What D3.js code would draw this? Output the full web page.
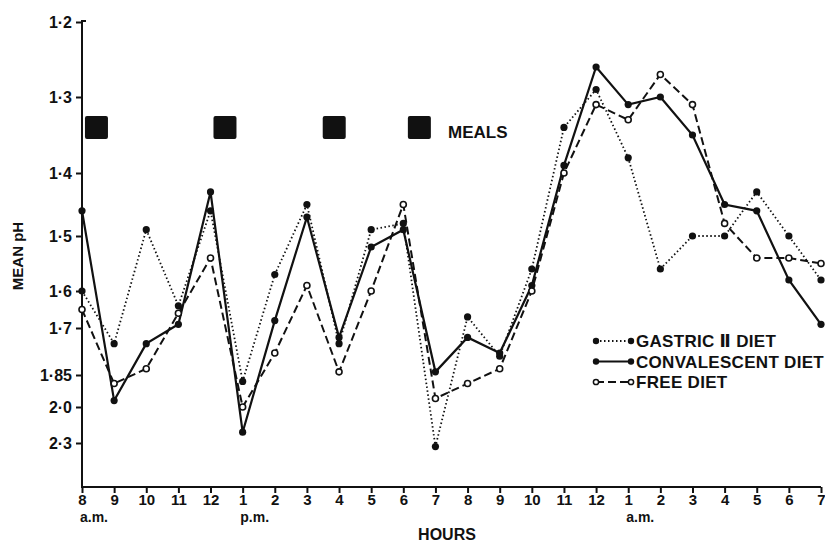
<!DOCTYPE html>
<html>
<head>
<meta charset="utf-8">
<script src="https://cdn.jsdelivr.net/npm/d3@7"></script>
<style>
  body { margin: 0; background: #fff; }
  svg { display: block; }
  text { font-family: "Liberation Sans", "DejaVu Sans", sans-serif; font-weight: bold; fill: #111; }
  .axis path, .axis line { stroke: #111; stroke-width: 2; }
</style>
</head>
<body>
<svg width="825" height="542"></svg>
<script>
// hour labels, 8 a.m. to 7 a.m. next day
var hourLabels = ["8", "9", "10", "11", "12", "1", "2", "3", "4", "5", "6", "7",
                  "8", "9", "10", "11", "12", "1", "2", "3", "4", "5", "6", "7"];
var hours = d3.range(24);

// y axis ticks (mean pH)
var phTicks = [1.2, 1.3, 1.4, 1.5, 1.6, 1.7, 1.85, 2.0, 2.3];
var phLabels = ["1·2", "1·3", "1·4", "1·5", "1·6", "1·7", "1·85", "2·0", "2·3"];

// mean pH for each hour
var gastric = [1.60, 1.75, 1.49, 1.64, 1.46, 1.88, 1.57, 1.45, 1.75, 1.49, 1.48, 2.33,
               1.67, 1.79, 1.56, 1.34, 1.29, 1.38, 1.56, 1.50, 1.50, 1.43, 1.50, 1.58];
var convalescent = [1.46, 1.97, 1.75, 1.69, 1.43, 2.21, 1.68, 1.47, 1.73, 1.52, 1.49, 1.84,
                    1.73, 1.78, 1.59, 1.39, 1.26, 1.31, 1.30, 1.35, 1.45, 1.46, 1.58, 1.69];
var free = [1.65, 1.89, 1.83, 1.66, 1.54, 2.00, 1.78, 1.59, 1.84, 1.60, 1.45, 1.96,
            1.89, 1.83, 1.60, 1.40, 1.31, 1.33, 1.27, 1.31, 1.48, 1.54, 1.54, 1.55];

// meal times (hours after 8 a.m.)
var meals = [0.45, 4.45, 7.85, 10.5];

var svg = d3.select("svg");

// scales -- the pH axis of the original is not linear, so map tick by tick
var tickPos = [22, 97, 173, 236, 291, 328, 375, 407, 443];
var x = d3.scaleLinear().domain([0, 23]).range([82, 821]);
var y = d3.scaleLinear().domain(phTicks).range(tickPos);
var axisY = 487;

// y axis
var yAxis = svg.append("g")
    .attr("class", "axis")
    .attr("transform", "translate(" + x(0) + ",0)")
    .call(d3.axisLeft(y).tickValues(phTicks).tickSize(6).tickSizeOuter(0)
        .tickFormat(function (d, i) { return phLabels[i]; }));
yAxis.select(".domain").remove();
yAxis.append("line")
    .attr("x1", 0).attr("x2", 0)
    .attr("y1", 20).attr("y2", axisY)
    .attr("stroke", "#111").attr("stroke-width", 2);
yAxis.append("line")
    .attr("x1", -1).attr("x2", 4)
    .attr("y1", 21).attr("y2", 21)
    .attr("stroke", "#111").attr("stroke-width", 2);
yAxis.selectAll("text").attr("font-size", 16).attr("dx", -1).attr("fill", "#111");

// x axis
var xAxis = svg.append("g")
    .attr("class", "axis")
    .attr("transform", "translate(0," + axisY + ")")
    .call(d3.axisBottom(x).tickValues(hours).tickSize(6).tickSizeOuter(0).tickPadding(1)
        .tickFormat(function (d) { return hourLabels[d]; }));
xAxis.select(".domain").attr("d", "M" + (x(0) - 1) + ",0H" + x(23));
xAxis.selectAll("text").attr("font-size", 15).attr("fill", "#111");

// a.m. / p.m. and axis titles
var subs = [[0, "a.m."], [5, "p.m."], [17, "a.m."]];
svg.selectAll(".sub").data(subs).enter().append("text")
    .attr("class", "sub")
    .attr("x", function (d) { return x(d[0]) + 12; })
    .attr("y", 522)
    .attr("text-anchor", "middle")
    .attr("font-size", 14)
    .text(function (d) { return d[1]; });

svg.append("text")
    .attr("x", 447).attr("y", 540)
    .attr("text-anchor", "middle")
    .attr("font-size", 16)
    .text("HOURS");

svg.append("text")
    .attr("transform", "translate(23,256) rotate(-90)")
    .attr("text-anchor", "middle")
    .attr("font-size", 15)
    .text("MEAN pH");

// meals
svg.selectAll(".meal").data(meals).enter().append("rect")
    .attr("class", "meal")
    .attr("x", function (d) { return x(d) - 11.5; })
    .attr("y", 116)
    .attr("width", 23).attr("height", 23)
    .attr("rx", 2)
    .attr("fill", "#111");
svg.append("text")
    .attr("x", 448).attr("y", 132)
    .attr("dy", "0.35em")
    .attr("font-size", 17)
    .text("MEALS");

// series
var series = [
    {name: "GASTRIC Ⅱ DIET", values: gastric, dash: "1.5,2.5", width: 1.8, open: false},
    {name: "CONVALESCENT DIET", values: convalescent, dash: null, width: 2.2, open: false},
    {name: "FREE DIET", values: free, dash: "8,4", width: 2, open: true}
];

var line = d3.line()
    .x(function (d, i) { return x(i); })
    .y(function (d) { return y(d); });

series.forEach(function (s) {
    svg.append("path")
        .datum(s.values)
        .attr("fill", "none")
        .attr("stroke", "#111")
        .attr("stroke-width", s.width)
        .attr("stroke-dasharray", s.dash)
        .attr("d", line);
});

series.forEach(function (s) {
    svg.append("g").selectAll("circle")
        .data(s.values)
        .enter().append("circle")
        .attr("cx", function (d, i) { return x(i); })
        .attr("cy", function (d) { return y(d); })
        .attr("r", s.open ? 3 : 3.6)
        .attr("fill", s.open ? "#fff" : "#111")
        .attr("stroke", "#111")
        .attr("stroke-width", s.open ? 1.6 : 0);
});

// legend
var legend = svg.append("g").attr("transform", "translate(596,341)");
series.forEach(function (s, i) {
    var g = legend.append("g").attr("transform", "translate(0," + i * 20.5 + ")");
    g.append("line")
        .attr("x1", 0).attr("x2", 35)
        .attr("stroke", "#111")
        .attr("stroke-width", s.width)
        .attr("stroke-dasharray", s.dash);
    [0, 35].forEach(function (cx) {
        g.append("circle")
            .attr("cx", cx).attr("cy", 0)
            .attr("r", s.open ? 2.6 : 3.2)
            .attr("fill", s.open ? "#fff" : "#111")
            .attr("stroke", "#111")
            .attr("stroke-width", s.open ? 1.5 : 0);
    });
    g.append("text")
        .attr("x", 40).attr("y", 0)
        .attr("dy", "0.36em")
        .attr("font-size", 17)
        .attr("letter-spacing", 0.3)
        .text(s.name);
});
</script>
</body>
</html>
